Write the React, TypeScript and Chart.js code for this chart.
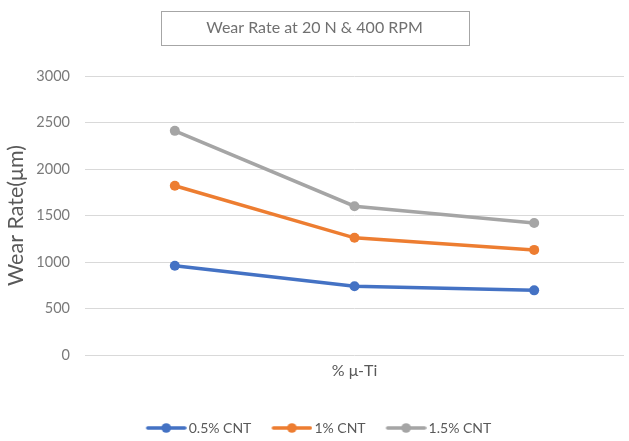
import { useEffect, useRef } from "react";
import { Chart, registerables } from "chart.js";

Chart.register(...registerables);

// Three μ-Ti levels along the x axis (labels are not shown on the axis)
const categories = ["Level 1", "Level 2", "Level 3"];

const seriesNames = ["0.5% CNT", "1% CNT", "1.5% CNT"];
const cnt05 = [960, 740, 695];
const cnt10 = [1820, 1260, 1130];
const cnt15 = [2410, 1600, 1420];
const seriesColors = ["#4472C4", "#ED7D31", "#A5A5A5"];

const yMin = 0;
const yMax = 3000;
const yStep = 500;

const chartTitle = "Wear Rate at 20 N & 400 RPM";
const yTitle = "Wear Rate(μm)";
const xTitle = "% μ-Ti";

const FONT = "Lato, 'Noto Sans', sans-serif";

// Legend swatch: a short line with a dot in the middle
function lineMarker(color: string): HTMLCanvasElement {
  const c = document.createElement("canvas");
  c.width = 54;
  c.height = 12;
  const g = c.getContext("2d")!;
  g.strokeStyle = color;
  g.lineWidth = 3.5;
  g.lineCap = "round";
  g.beginPath();
  g.moveTo(15, 6);
  g.lineTo(52, 6);
  g.stroke();
  g.fillStyle = color;
  g.beginPath();
  g.arc(33.5, 6, 4.8, 0, Math.PI * 2);
  g.fill();
  return c;
}

// Draws a thin frame around the chart title
const titleFrame = {
  id: "titleFrame",
  afterDraw(chart: any) {
    const tb = chart.titleBlock;
    if (!tb) return;
    const ctx = chart.ctx;
    const cx = tb.left + tb.width / 2;
    const w = 308;
    const h = 34;
    const cy = 28;
    ctx.save();
    ctx.strokeStyle = "#a6a6a6";
    ctx.lineWidth = 1;
    ctx.strokeRect(Math.round(cx - w / 2) + 0.5, Math.round(cy - h / 2) + 0.5, w, h);
    ctx.restore();
  },
};

export default function App() {
  const ref = useRef<HTMLCanvasElement | null>(null);

  useEffect(() => {
    if (!ref.current) return;
    const data = [cnt05, cnt10, cnt15];
    const markers = seriesColors.map(lineMarker);
    const chart = new Chart(ref.current, {
      type: "line",
      data: {
        labels: categories,
        datasets: seriesNames.map((name, i) => ({
          label: name,
          data: data[i],
          borderColor: seriesColors[i],
          backgroundColor: seriesColors[i],
          borderWidth: 3.5,
          pointRadius: 5,
          pointHoverRadius: 5,
          pointBorderWidth: 0,
          pointBackgroundColor: seriesColors[i],
          tension: 0,
          fill: false,
        })),
      },
      options: {
        responsive: false,
        maintainAspectRatio: false,
        animation: false,
        layout: { padding: { left: 0, right: 0, top: 0, bottom: -4 } },
        plugins: {
          tooltip: { enabled: false },
          title: {
            display: true,
            text: chartTitle,
            color: "#707070",
            font: { family: FONT, size: 16, weight: "normal" },
            padding: { top: 18.4, bottom: 38.4 },
          },
          legend: {
            position: "bottom",
            labels: {
              usePointStyle: true,
              pointStyleWidth: 44,
              boxHeight: 12,
              padding: 12,
              color: "#595959",
              font: { family: FONT, size: 14 },
              generateLabels(chart: any) {
                const items = Chart.defaults.plugins.legend.labels.generateLabels(chart);
                return items.map((it: any, i: number) => ({ ...it, pointStyle: markers[i] }));
              },
            },
          },
        },
        scales: {
          x: {
            type: "category",
            offset: true,
            grid: { display: false },
            border: { display: false },
            ticks: { display: false },
            title: {
              display: true,
              text: xTitle,
              color: "#595959",
              font: { family: FONT, size: 16 },
              padding: { top: 4, bottom: 29 },
            },
            afterFit(scale: any) {
              scale.height = 54;
            },
          },
          y: {
            min: yMin,
            max: yMax,
            grid: { color: "#d9d9d9", lineWidth: 1, drawTicks: false },
            border: { display: false },
            ticks: {
              stepSize: yStep,
              padding: 15,
              color: "#7a7a7a",
              font: { family: FONT, size: 14.5 },
              callback: (v: any) => String(v),
            },
            title: {
              display: true,
              text: yTitle,
              color: "#595959",
              font: { family: FONT, size: 21.5 },
              padding: { top: 3, bottom: 0 },
            },
            afterFit(scale: any) {
              scale.width = 85;
            },
          },
        },
      },
      plugins: [titleFrame],
    });
    return () => chart.destroy();
  }, []);

  return (
    <div style={{ position: "absolute", left: 0, top: 0, width: 629, height: 441, background: "#fff" }}>
      <canvas ref={ref} width={629} height={441} style={{ display: "block" }} />
    </div>
  );
}
